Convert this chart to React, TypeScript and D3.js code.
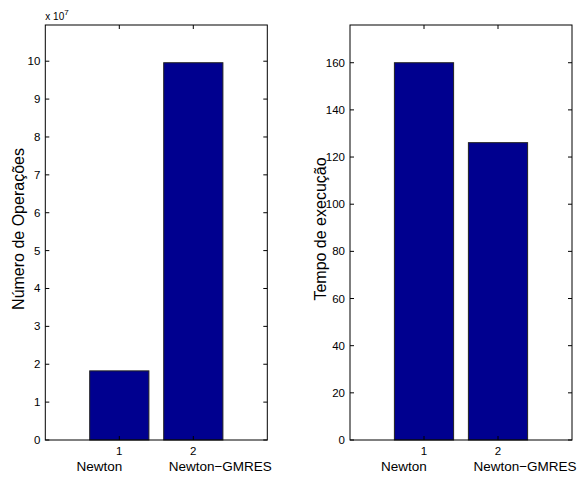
import React from "react";
import * as d3 from "d3";

// Category names and tick numbers along x
const categories = ["Newton", "Newton\u2212GMRES"];
const xTickLabels = ["1", "2"];

// Series values
const operationCounts = [1.825e7, 9.96e7];
const runTimes = [160, 126.1];

// Y-axis ticks
const operationTicks = [0, 1, 2, 3, 4, 5, 6, 7, 8, 9, 10];
const timeTicks = [0, 20, 40, 60, 80, 100, 120, 140, 160];

const W = 582;
const H = 479;
const FONT = "'Liberation Sans', Arial, Helvetica, sans-serif";
const BAR_FILL = "#00008F";

type PanelProps = {
  x0: number;
  x1: number;
  values: number[];
  ticks: number[];
  scaleFactor: number;
  yLabel: string;
  yLabelX: number;
  exponent?: number;
};

function Panel({ x0, x1, values, ticks, scaleFactor, yLabel, yLabelX, exponent }: PanelProps) {
  const top = 25;
  const bottom = 440;
  const x = d3.scaleLinear().domain([0, 3]).range([x0, x1]);
  const yMax = (d3.max(values) as number) * 1.1;
  const y = d3.scaleLinear().domain([0, yMax]).range([bottom, top]);
  const barW = x(0.8) - x(0);
  const tickLen = 4;
  const yLabelCenter = 229;

  return (
    <g>
      {/* bars */}
      {values.map((v, i) => (
        <rect
          key={"b" + i}
          x={x(i + 1) - barW / 2}
          y={y(v)}
          width={barW}
          height={y(0) - y(v)}
          fill={BAR_FILL}
          stroke="#222"
          strokeWidth={1}
        />
      ))}
      {/* axes box */}
      <rect x={x0} y={top} width={x1 - x0} height={bottom - top} fill="none" stroke="#000" strokeWidth={1} />
      {/* y ticks */}
      {ticks.map((t) => {
        const yy = y(t * scaleFactor);
        return (
          <g key={"y" + t}>
            <line x1={x0} x2={x0 + tickLen} y1={yy} y2={yy} stroke="#000" />
            <line x1={x1} x2={x1 - tickLen} y1={yy} y2={yy} stroke="#000" />
            <text
              x={x0 - 5}
              y={yy}
              textAnchor="end"
              dominantBaseline="central"
              fontSize={11.5}
              fontFamily={FONT}
            >
              {t}
            </text>
          </g>
        );
      })}
      {/* x ticks */}
      {xTickLabels.map((lbl, i) => {
        const xx = x(i + 1);
        return (
          <g key={"x" + i}>
            <line x1={xx} x2={xx} y1={bottom} y2={bottom - tickLen} stroke="#000" />
            <line x1={xx} x2={xx} y1={top} y2={top + tickLen} stroke="#000" />
            <text x={xx} y={455} textAnchor="middle" fontSize={11.5} fontFamily={FONT}>
              {lbl}
            </text>
          </g>
        );
      })}
      {/* category names */}
      <text x={x(1) - 20} y={471} textAnchor="middle" fontSize={13.5} fontFamily={FONT}>
        {categories[0]}
      </text>
      <text x={x(2) + 27} y={471} textAnchor="middle" fontSize={13.5} fontFamily={FONT}>
        {categories[1]}
      </text>
      {/* y label */}
      <text
        transform={`translate(${yLabelX},${yLabelCenter}) rotate(-90)`}
        textAnchor="middle"
        fontSize={16}
        fontFamily={FONT}
      >
        {yLabel}
      </text>
      {exponent !== undefined && (
        <text x={x0} y={20} fontSize={10} fontFamily={FONT}>
          x 10
          <tspan dy={-5} fontSize={8}>
            {exponent}
          </tspan>
        </text>
      )}
    </g>
  );
}

export default function App() {
  return (
    <svg width={W} height={H} style={{ display: "block", position: "absolute", left: 0, top: 0, background: "#fff" }}>
      <rect width={W} height={H} fill="#fff" />
      <Panel
        x0={45.3}
        x1={267.3}
        values={operationCounts}
        ticks={operationTicks}
        scaleFactor={1e7}
        yLabel="Número de Operações"
        yLabelX={24}
        exponent={7}
      />
      <Panel
        x0={350}
        x1={572}
        values={runTimes}
        ticks={timeTicks}
        scaleFactor={1}
        yLabel="Tempo de execução"
        yLabelX={326}
      />
    </svg>
  );
}
